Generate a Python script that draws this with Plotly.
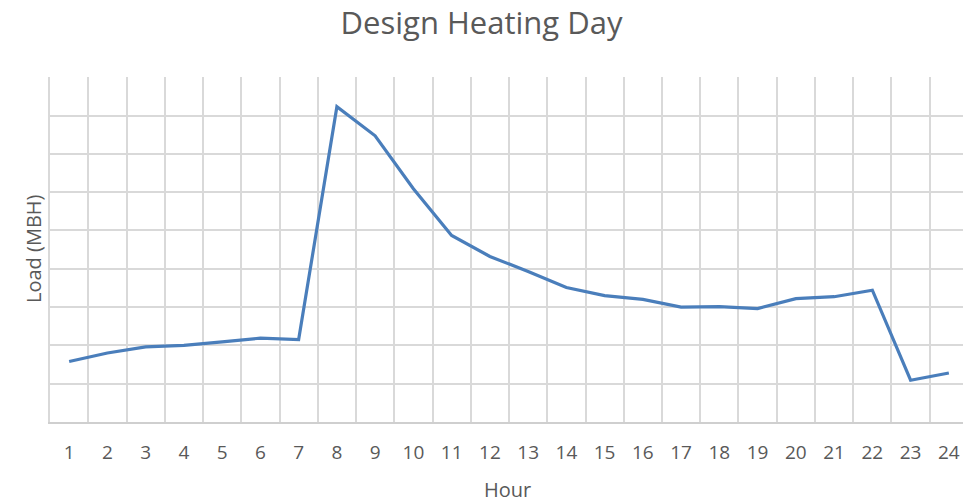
import plotly.graph_objects as go

hours = list(range(1, 25))
hour_labels = [str(h) for h in hours]
load_mbh = [15.8, 18.0, 19.6, 20.0, 20.9, 21.9, 21.5, 82.3, 74.7, 60.9, 48.7, 43.2,
            39.3, 35.1, 33.0, 32.0, 30.0, 30.1, 29.6, 32.2, 32.7, 34.4, 10.9, 12.8]

FONT = "Open Sans"
TXT = "#595959"
GRID = "#d9d9d9"

fig = go.Figure(go.Scatter(
    x=hours, y=load_mbh, mode="lines",
    line=dict(color="#4a7ebb", width=3.2),
    showlegend=False, hoverinfo="x+y",
))

fig.update_layout(
    width=963, height=502,
    margin=dict(l=50, r=0, t=77, b=80, autoexpand=False),
    paper_bgcolor="white", plot_bgcolor="white",
    title=dict(text="Design Heating Day", x=0.5, xanchor="center", y=1 - 23 / 502, yanchor="middle",
               font=dict(family=FONT, size=31, color=TXT)),
    font=dict(family=FONT, color=TXT),
    annotations=[
        dict(text="Hour", xref="paper", yref="paper", x=(481 + 0.5 * 53 - 50) / 913, xanchor="center",
             y=-(490 - 422) / 345, yanchor="middle", showarrow=False,
             font=dict(family=FONT, size=20, color=TXT)),
        dict(text="Load (MBH)", xref="paper", yref="paper", x=-(50 - 33) / 913, xanchor="center",
             y=(422 - 249) / 345, yanchor="middle", showarrow=False, textangle=-90,
             font=dict(family=FONT, size=20, color=TXT)),
    ],
)

fig.update_xaxes(
    range=[0.499, 24.37], tickmode="array", tickvals=hours, ticktext=hour_labels,
    showgrid=False, zeroline=False, automargin=False,
    showline=True, linecolor="#cfcfcf", linewidth=1.5,
    ticks="", ticklabelstandoff=12,
    tickfont=dict(family=FONT, size=19, color=TXT),
    minor=dict(tick0=0.5, dtick=1, showgrid=True, gridcolor=GRID, gridwidth=1.5, ticks=""),
)
fig.update_yaxes(
    range=[0, 90.05], dtick=10, tick0=0, showticklabels=False, automargin=False,
    showgrid=True, gridcolor=GRID, gridwidth=1.5, zeroline=False,
    showline=True, linecolor=GRID, linewidth=1.5,
)

fig.write_html(
    "out.html",
    config={"displayModeBar": False},
    post_script="document.body.style.margin='0';document.body.style.overflow='hidden';",
)
